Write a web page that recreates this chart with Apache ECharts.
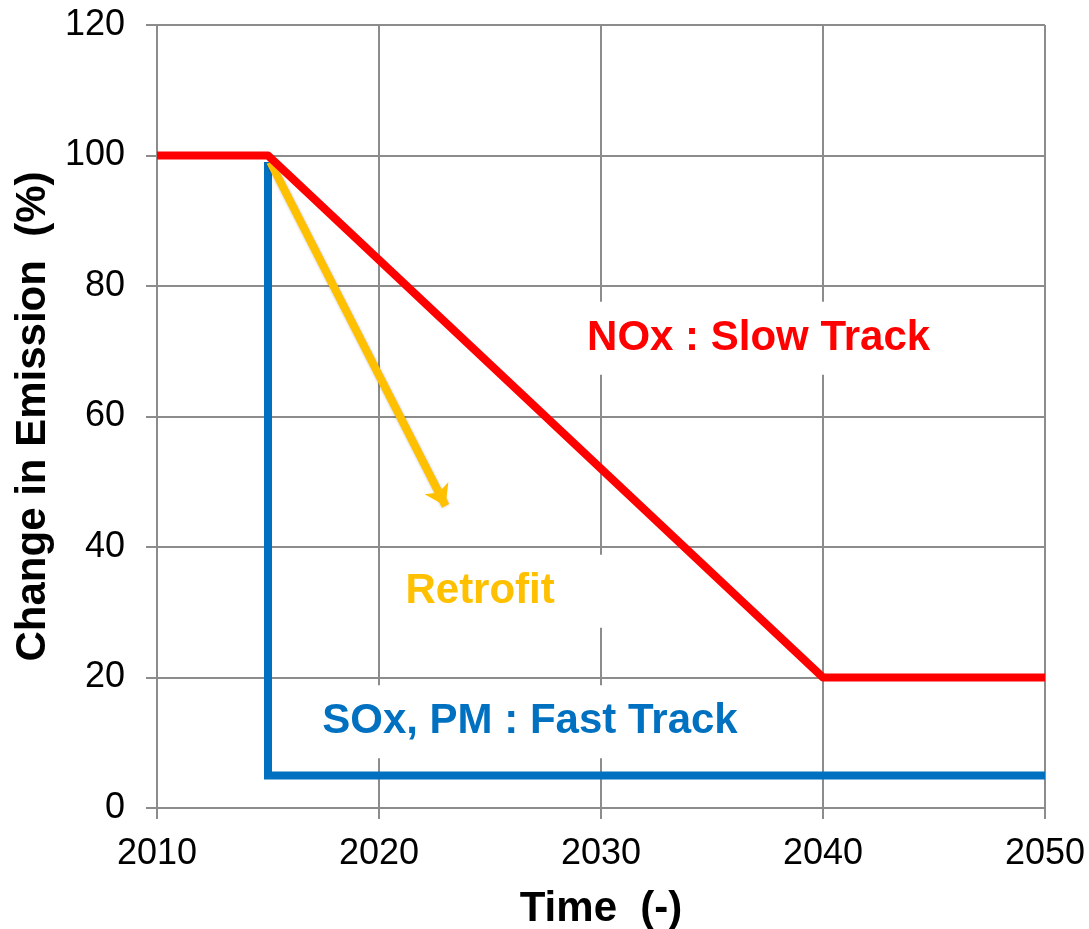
<!DOCTYPE html>
<html>
<head>
<meta charset="utf-8">
<script src="https://cdn.jsdelivr.net/npm/echarts@6/dist/echarts.min.js"></script>
<style>
  html, body { margin: 0; padding: 0; background: #fff; }
  #chart { width: 1089px; height: 929px; }
</style>
</head>
<body>
<div id="chart"></div>
<script>
// Emission pathways (percent of 2010 level) over time
const noxYears = [2010, 2015, 2040, 2050];
const noxValues = [100, 100, 20, 20];

const soxYears = [2015, 2015, 2050];
const soxValues = [99, 5, 5];

// Retrofit arrow: start and end points
const retrofitYears = [2015.1, 2023.0];
const retrofitValues = [99, 46.3];

// Annotation texts and their anchor points in data coordinates
const noteTexts = ['NOx : Slow Track', 'Retrofit', 'SOx, PM : Fast Track'];
const noteYears = [2037.1, 2025.5, 2026.8];
const noteValues = [72.0, 33.2, 13.2];

const xTicks = [2010, 2050, 10];
const yTicks = [0, 120, 20];

const FONT = 'Arial, "Liberation Sans", sans-serif';
const GRID = '#8c8c8c';
const RED = '#ff0000';
const BLUE = '#0070c0';
const GOLD = '#ffc000';
const noteColors = [RED, GOLD, BLUE];
const notePads = [[16, 10, 15, 10], [16, 52, 15, 10], [16, 10, 15, 10]];

const zip = (xs, ys) => xs.map((x, i) => [x, ys[i]]);

const chart = echarts.init(document.getElementById('chart'), null, { renderer: 'canvas' });

const noteSeries = noteTexts.map((t, i) => ({
  type: 'scatter',
  symbolSize: 0,
  z: 3,
  silent: true,
  itemStyle: { opacity: 1 },
  data: [[noteYears[i], noteValues[i]]],
  label: {
    show: true,
    position: 'inside',
    formatter: t,
    opacity: 1,
    color: noteColors[i],
    fontFamily: FONT,
    fontWeight: 'bold',
    fontSize: 42,
    lineHeight: 42,
    backgroundColor: '#ffffff',
    padding: notePads[i]
  }
}));

chart.setOption({
  animation: false,
  backgroundColor: '#ffffff',
  grid: { left: 157, right: 44, top: 25, bottom: 121, outerBoundsMode: 'none', containLabel: false },
  xAxis: {
    type: 'value',
    min: xTicks[0], max: xTicks[1], interval: xTicks[2],
    name: 'Time  (-)',
    nameLocation: 'middle',
    nameGap: 80,
    nameTextStyle: { fontFamily: FONT, fontWeight: 'bold', fontSize: 42, color: '#000' },
    axisLine: { lineStyle: { color: GRID, width: 2 } },
    axisTick: { show: true, length: 11, lineStyle: { color: GRID, width: 2 } },
    splitLine: { show: true, lineStyle: { color: GRID, width: 2 } },
    axisLabel: {
      fontFamily: FONT, fontSize: 36, color: '#000', margin: 28,
      formatter: v => String(v)
    }
  },
  yAxis: {
    type: 'value',
    min: yTicks[0], max: yTicks[1], interval: yTicks[2],
    name: 'Change in Emission  (%)',
    nameLocation: 'middle',
    nameGap: 100,
    nameRotate: 90,
    nameTextStyle: { fontFamily: FONT, fontWeight: 'bold', fontSize: 42, color: '#000' },
    axisLine: { show: true, lineStyle: { color: GRID, width: 2 } },
    axisTick: { show: true, length: 11, lineStyle: { color: GRID, width: 2 } },
    splitLine: { show: true, lineStyle: { color: GRID, width: 2 } },
    axisLabel: { fontFamily: FONT, fontSize: 36, color: '#000', margin: 32 }
  },
  series: [
    ...noteSeries,
    {
      name: 'SOx, PM',
      type: 'line',
      z: 4,
      symbol: 'none',
      data: zip(soxYears, soxValues),
      lineStyle: { color: BLUE, width: 8, join: 'miter' }
    },
    {
      name: 'Retrofit',
      type: 'lines',
      coordinateSystem: 'cartesian2d',
      z: 5,
      symbol: ['none', 'arrow'],
      symbolSize: 20,
      data: [{ coords: zip(retrofitYears, retrofitValues) }],
      lineStyle: {
        color: GOLD, width: 8, opacity: 1, curveness: 0,
        shadowColor: 'rgba(0,0,0,0.25)', shadowBlur: 3
      }
    },
    {
      name: 'NOx',
      type: 'line',
      z: 6,
      symbol: 'none',
      data: zip(noxYears, noxValues),
      lineStyle: { color: RED, width: 8, join: 'round' }
    }
  ]
});
</script>
</body>
</html>
